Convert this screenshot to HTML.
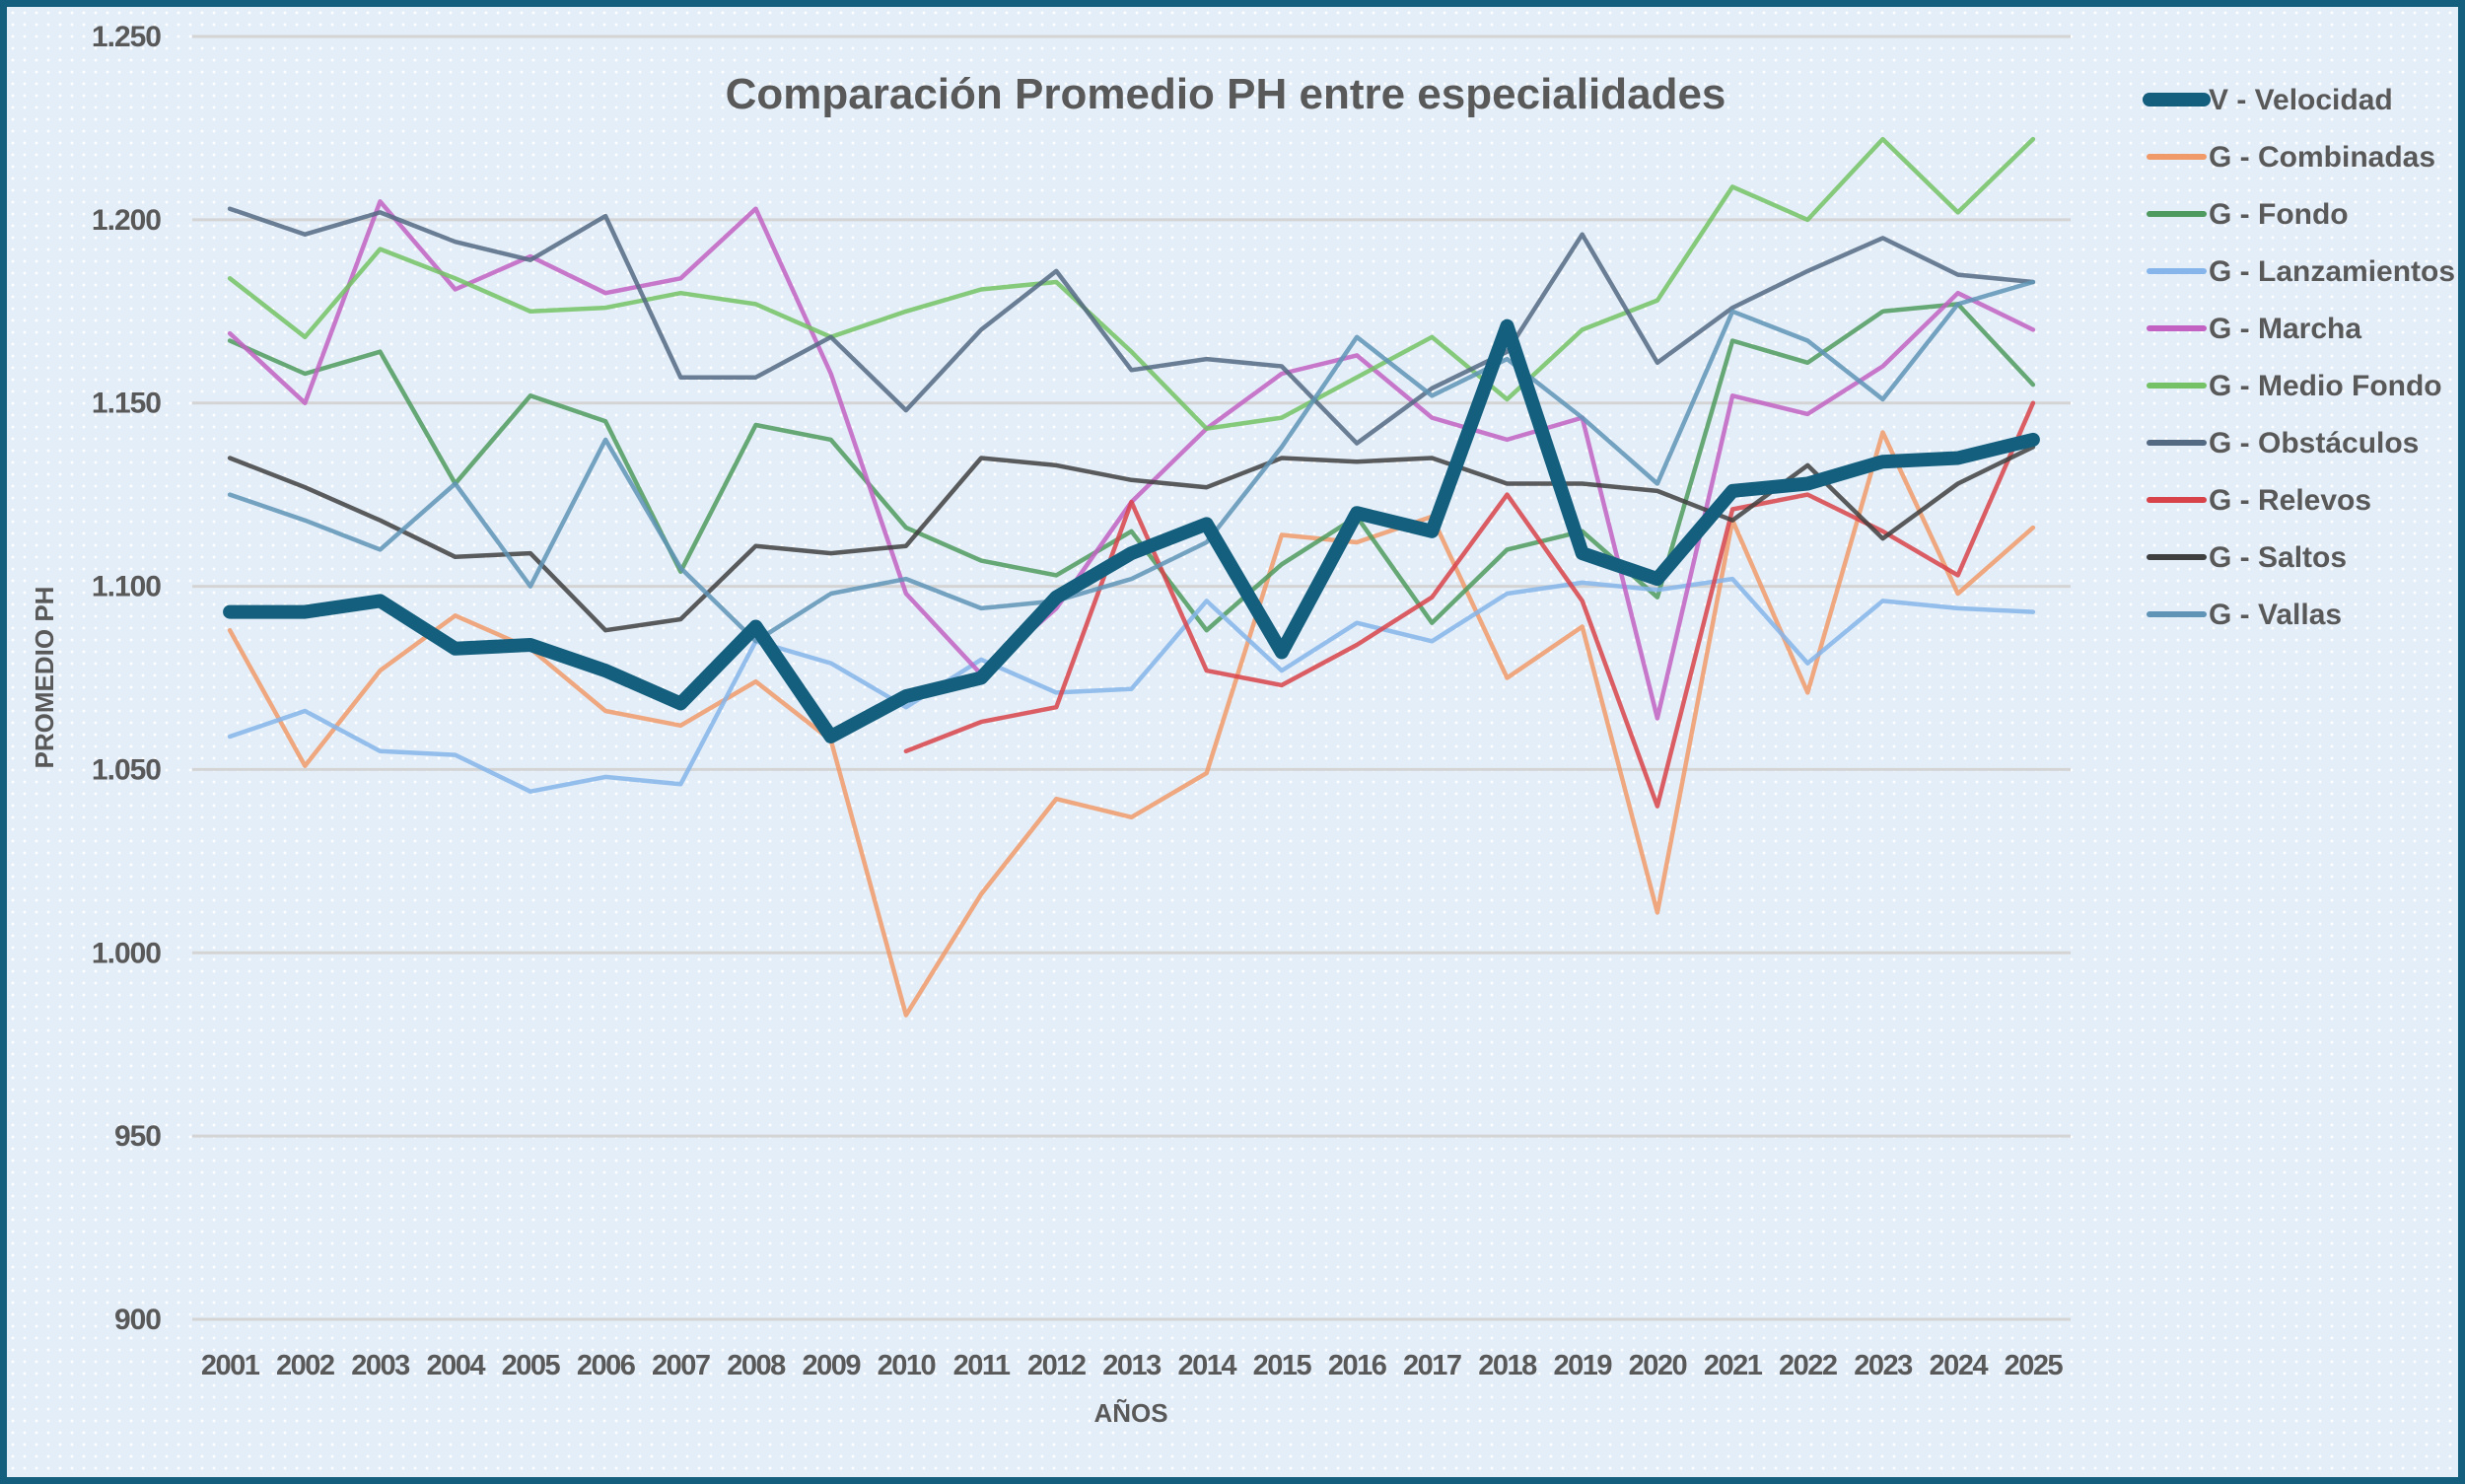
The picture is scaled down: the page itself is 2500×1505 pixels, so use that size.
<!DOCTYPE html>
<html><head><meta charset="utf-8"><style>
html,body{margin:0;padding:0}
body{width:2500px;height:1505px;overflow:hidden;font-family:"Liberation Sans",sans-serif}
#frame{position:absolute;left:0;top:0;width:2486px;height:1491px;border:7px solid #145f7e;background-color:#e4eef9;background-image:radial-gradient(circle,#ffffff 1.2px,transparent 1.6px);background-size:12px 12px}
svg{position:absolute;left:0;top:0}
text{font-family:"Liberation Sans",sans-serif;font-weight:bold;fill:#595959}
</style></head><body>
<div id="frame"></div>
<svg id="chart" width="2500" height="1505"></svg>
<script>
const years=["2001","2002","2003","2004","2005","2006","2007","2008","2009","2010","2011","2012","2013","2014","2015","2016","2017","2018","2019","2020","2021","2022","2023","2024","2025"];
const yTicks=[900,950,1000,1050,1100,1150,1200,1250];
const yTickLabels=["900","950","1.000","1.050","1.100","1.150","1.200","1.250"];
const seriesNames=["V - Velocidad","G - Combinadas","G - Fondo","G - Lanzamientos","G - Marcha","G - Medio Fondo","G - Obstáculos","G - Relevos","G - Saltos","G - Vallas"];
const velocidad=[1093,1093,1096,1083,1084,1077,1068,1089,1059,1070,1075,1097,1109,1117,1082,1120,1115,1171,1109,1102,1126,1128,1134,1135,1140];
const combinadas=[1088,1051,1077,1092,1083,1066,1062,1074,1058,983,1016,1042,1037,1049,1114,1112,1119,1075,1089,1011,1118,1071,1142,1098,1116];
const fondo=[1167,1158,1164,1128,1152,1145,1104,1144,1140,1116,1107,1103,1115,1088,1106,1119,1090,1110,1115,1097,1167,1161,1175,1177,1155];
const lanzamientos=[1059,1066,1055,1054,1044,1048,1046,1085,1079,1067,1080,1071,1072,1096,1077,1090,1085,1098,1101,1099,1102,1079,1096,1094,1093];
const marcha=[1169,1150,1205,1181,1190,1180,1184,1203,1158,1098,1076,1094,1123,1143,1158,1163,1146,1140,1146,1064,1152,1147,1160,1180,1170];
const medioFondo=[1184,1168,1192,1184,1175,1176,1180,1177,1168,1175,1181,1183,1164,1143,1146,1157,1168,1151,1170,1178,1209,1200,1222,1202,1222];
const obstaculos=[1203,1196,1202,1194,1189,1201,1157,1157,1168,1148,1170,1186,1159,1162,1160,1139,1154,1164,1196,1161,1176,1186,1195,1185,1183];
const relevos=[null,null,null,null,null,null,null,null,null,1055,1063,1067,1123,1077,1073,1084,1097,1125,1096,1040,1121,1125,1115,1103,1150];
const saltos=[1135,1127,1118,1108,1109,1088,1091,1111,1109,1111,1135,1133,1129,1127,1135,1134,1135,1128,1128,1126,1118,1133,1113,1128,1138];
const vallas=[1125,1118,1110,1128,1100,1140,1105,1085,1098,1102,1094,1096,1102,1112,1138,1168,1152,1162,1146,1128,1175,1167,1151,1177,1183];

const allSeries=[velocidad,combinadas,fondo,lanzamientos,marcha,medioFondo,obstaculos,relevos,saltos,vallas];
const colors=["#145f7e","#f09a6a","#4f9a5e","#85b5ea","#c262c2","#74c265","#536a82","#d8434a","#3f3f3f","#5f94b6"];
const slugs=["velocidad","combinadas","fondo","lanzamientos","marcha","medio-fondo","obstaculos","relevos","saltos","vallas"];
const NS="http://www.w3.org/2000/svg";
const svg=document.getElementById('chart');
const L=195,R=2100,T=37,B=1338,yMin=900,yMax=1250;
const xs=i=>L+(R-L)/years.length*(i+0.5);
const ys=v=>B-(v-yMin)/(yMax-yMin)*(B-T);
function mk(tag,attrs){const e=document.createElementNS(NS,tag);for(const k in attrs)e.setAttribute(k,attrs[k]);svg.appendChild(e);return e;}

yTicks.forEach((v,i)=>{
  const g=mk('line',{x1:L,x2:R,y1:ys(v),y2:ys(v),stroke:'#d4d4d4','stroke-width':3});
  
  
  const t=mk('text',{x:163,y:ys(v)+10,'text-anchor':'end','font-size':30,'letter-spacing':'-1'});
  t.textContent=yTickLabels[i];
  
  
});
years.forEach((y,i)=>{
  const t=mk('text',{x:xs(i),y:1394,'text-anchor':'middle','font-size':29,'letter-spacing':'-1.5'});
  t.textContent=y;
  
  
});
const order=[1,2,3,4,5,6,7,8,9,0];
order.forEach(si=>{
  const data=allSeries[si];let d='';let started=false;
  data.forEach((v,i)=>{if(v==null)return;d+=(started?'L':'M')+xs(i).toFixed(1)+' '+ys(v).toFixed(1)+' ';started=true;});
  const p=mk('path',{d:d,fill:'none',stroke:colors[si],'stroke-width':si===0?14:4.5,'stroke-linejoin':'round','stroke-linecap':'round',opacity:si===0?1:0.85});
  
  
});
seriesNames.forEach((n,i)=>{
  const y=101+i*58;
  const l=mk('line',{x1:2180,x2:2235,y1:y,y2:y,stroke:colors[i],'stroke-width':i===0?14:6,'stroke-linecap':'round'});
  
  
  const t=mk('text',{x:2240,y:y+10,'font-size':30});
  t.textContent=n;
  
  
});
const title=mk('text',{x:1243,y:110,'text-anchor':'middle','font-size':44});
title.textContent='Comparación Promedio PH entre especialidades';


const xt=mk('text',{x:1147,y:1442,'text-anchor':'middle','font-size':26});
xt.textContent='AÑOS';


const yt=mk('text',{x:0,y:0,'text-anchor':'middle','font-size':26,transform:'translate(54,687) rotate(-90)'});
yt.textContent='PROMEDIO PH';


</script>
</body></html>
